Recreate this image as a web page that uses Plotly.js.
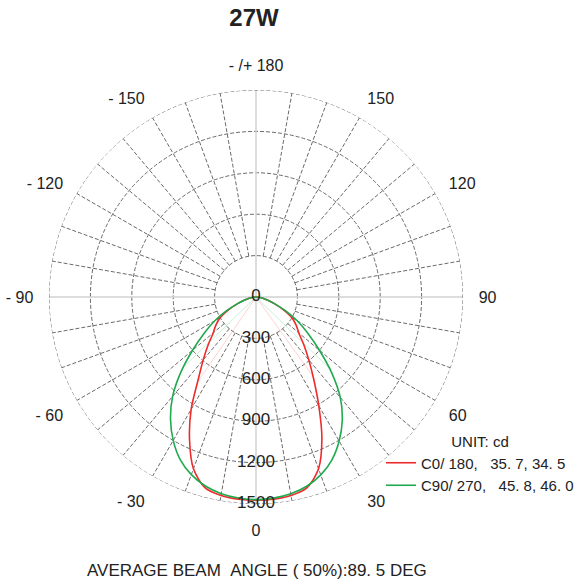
<!DOCTYPE html>
<html>
<head>
<meta charset="utf-8">
<script src="https://cdn.plot.ly/plotly-3.0.1.min.js"></script>
<style>html,body{margin:0;padding:0;background:#fff;}#chart{width:580px;height:583px;}</style>
</head>
<body>
<div id="chart"></div>
<script>
// ---- data ----
const angles = [-90,-85,-80,-75,-70,-65,-60,-55,-50,-45,-40,-35,-30,-25,-20,-15,-10,-5,0,5,10,15,20,25,30,35,40,45,50,55,60,65,70,75,80,85,90];
const c0Values = [0,20,50,90,145,220,300,355,405,490,595,730,940,1140,1325,1430,1460,1470,1472,1470,1460,1430,1325,1130,910,730,595,490,405,355,300,220,145,90,50,20,0];
const c90Values = [0,20,50,85,145,235,345,460,600,770,940,1080,1200,1300,1370,1418,1447,1462,1468,1463,1448,1420,1372,1302,1205,1090,950,775,600,460,345,235,145,85,50,20,0];
const c0Name = 'C0/ 180,\u00a0\u00a0\u00a035. 7, 34. 5';
const c90Name = 'C90/ 270,\u00a0\u00a0\u00a045. 8, 46. 0';
const c0HalfBeam = [35.7, -34.5];
const c90HalfBeam = [45.8, -46.0];
const radialTicks = [300, 600, 900, 1200, 1500];
const radialLabelVals = [0, 300, 600, 900, 1200, 1500];
const radialLabels = ['0', '300', '600', '900', '1200', '1500'];
const angTickVals = [0, 30, 60, 90, 120, 150, 180, 210, 240, 270, 300, 330];
const angTickText = ['0', '30', '60', '90', '120', '150', '- /+ 180', '- 150', '- 120', '- 90', '- 60', '- 30'];
const titleText = '27W';
const unitText = 'UNIT: cd';
const footerText = 'AVERAGE BEAM\u00a0\u00a0ANGLE\u00a0(\u00a050%):89.\u00a05\u00a0DEG';

// ---- grid helpers ----
const rMax = 1500, rMin = 300;
const spokeTheta = [], spokeR = [];
for (let a = 0; a < 360; a += 10) {
  if (a % 90 === 0) continue;
  spokeTheta.push(a, a, null); spokeR.push(rMin, rMax, null);
}
const crossTheta = [], crossR = [];
[0, 90, 180, 270].forEach(a => { crossTheta.push(a, a, null); crossR.push(0, rMax, null); });
const ringTheta = [], ringR = [];
for (let a = 0; a <= 360; a += 2) { ringTheta.push(a); ringR.push(rMax); }

function beamLines(half, vals) {
  const m = Math.max(...vals) * 0.5;
  const th = [], r = [];
  half.forEach(h => { th.push(0, h, null); r.push(0, m, null); });
  return {th, r};
}
const b0 = beamLines(c0HalfBeam, c0Values);
const b90 = beamLines(c90HalfBeam, c90Values);

const FONT = 'Liberation Sans, Arial, sans-serif';
const GRID = '#6a6a6a';
const traces = [
  {type:'scatterpolar', mode:'lines', theta:crossTheta, r:crossR, line:{color:'#d2d2d2', width:1.5}, showlegend:false, hoverinfo:'skip'},
  {type:'scatterpolar', mode:'lines', theta:spokeTheta, r:spokeR, line:{color:GRID, width:1, dash:'4px,2px'}, showlegend:false, hoverinfo:'skip'},
  {type:'scatterpolar', mode:'lines', theta:ringTheta, r:ringR, line:{color:GRID, width:1, dash:'4px,2px'}, showlegend:false, hoverinfo:'skip'},
  {type:'scatterpolar', mode:'lines', theta:b0.th, r:b0.r, line:{color:'rgba(255,80,80,0.25)', width:1}, showlegend:false, hoverinfo:'skip'},
  {type:'scatterpolar', mode:'lines', theta:b90.th, r:b90.r, line:{color:'rgba(40,190,100,0.25)', width:1}, showlegend:false, hoverinfo:'skip'},
  {type:'scatterpolar', mode:'lines', theta:angles, r:c0Values, name:c0Name, line:{color:'#ee2a2a', width:1.6, shape:'spline', smoothing:0.8}},
  {type:'scatterpolar', mode:'lines', theta:angles, r:c90Values, name:c90Name, line:{color:'#1faa4f', width:1.6, shape:'spline', smoothing:0.8}},
  {type:'scatterpolar', mode:'text', theta:radialLabelVals.map(() => 0), r:radialLabelVals, text:radialLabels, textposition:'middle center', textfont:{family:FONT, size:17, color:'#222'}, showlegend:false, hoverinfo:'skip'}
];

const W = 580, H = 583, cx = 256, cy = 297, R = 207;
const layout = {
  width: W, height: H,
  margin: {l:0, r:0, t:0, b:0, autoexpand:false},
  paper_bgcolor: '#fff',
  font: {family: FONT, color:'#222', size:16},
  title: {text:'<b>' + titleText + '</b>', x: 254/W, y: 1 - 18/H, xanchor:'center', yanchor:'middle', font:{family:FONT, size:24, color:'#222'}},
  showlegend: true,
  legend: {
    x: 381/W, y: 1 - 427/H, xanchor:'left', yanchor:'top',
    bgcolor:'rgba(0,0,0,0)', font:{family:FONT, size:15, color:'#222'},
    itemwidth:30, tracegroupgap:0,
    title:{text:unitText, side:'top center', font:{family:FONT, size:15, color:'#222'}}
  },
  polar: {
    domain: {x:[(cx - R)/W, (cx + R)/W], y:[(H - cy - R)/H, (H - cy + R)/H]},
    bgcolor:'rgba(0,0,0,0)',
    radialaxis: {
      range:[0, rMax], tickmode:'array', tickvals:radialTicks, showticklabels:false,
      ticks:'', showline:false, gridcolor:GRID, gridwidth:1, griddash:'4px,2px', angle:-90
    },
    angularaxis: {
      rotation:-90, direction:'counterclockwise', tickmode:'array',
      tickvals:angTickVals, ticktext:angTickText, showgrid:false, showline:false,
      ticks:'outside', ticklen:12, tickcolor:'rgba(0,0,0,0)',
      tickfont:{family:FONT, size:16, color:'#222'}
    }
  },
  annotations: [
    {text:footerText, xref:'paper', yref:'paper', x:257/W, y:1 - 570/H, xanchor:'center', yanchor:'middle', showarrow:false, font:{family:FONT, size:17, color:'#222'}}
  ]
};
Plotly.newPlot('chart', traces, layout, {displayModeBar:false, staticPlot:true});
</script>
</body>
</html>
